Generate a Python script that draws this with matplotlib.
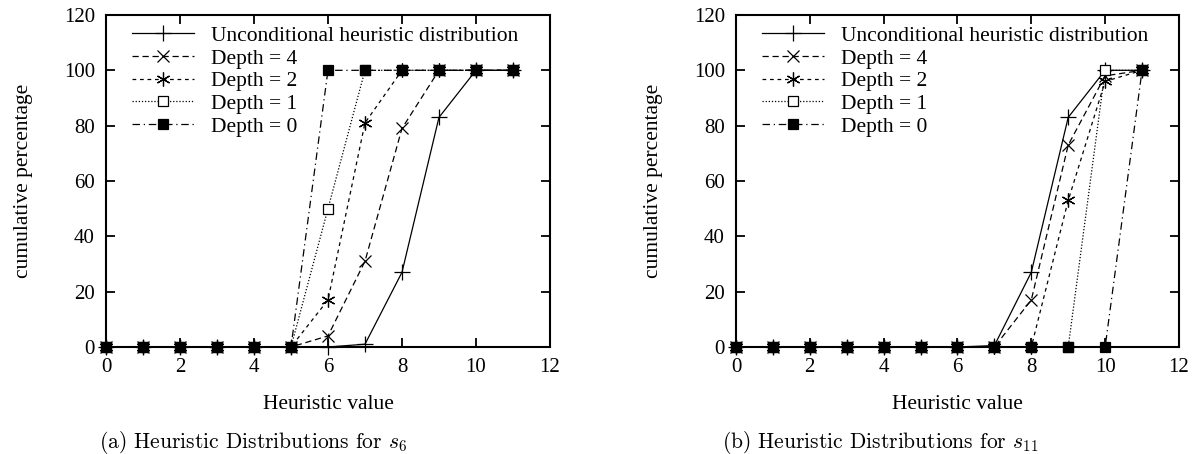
import numpy as np
import matplotlib.pyplot as plt

plt.rcParams['font.family'] = ['Liberation Serif', 'DejaVu Serif']
plt.rcParams['mathtext.fontset'] = 'cm'

h = list(range(12))
labels = ['Unconditional heuristic distribution', 'Depth = 4', 'Depth = 2',
          'Depth = 1', 'Depth = 0']

# (a) s6
s6_uncond = [0, 0, 0, 0, 0, 0, 0, 1, 27, 83, 100, 100]
s6_d4 = [0, 0, 0, 0, 0, 0, 4, 31, 79, 100, 100, 100]
s6_d2 = [0, 0, 0, 0, 0, 0, 17, 81, 100, 100, 100, 100]
s6_d1 = [0, 0, 0, 0, 0, 0, 50, 100, 100, 100, 100, 100]
s6_d0 = [0, 0, 0, 0, 0, 0, 100, 100, 100, 100, 100, 100]

# (b) s11
s11_uncond = [0, 0, 0, 0, 0, 0, 0, 0.5, 27, 83, 100, 100]
s11_d4 = [0, 0, 0, 0, 0, 0, 0, 0, 17, 73, 98, 100]
s11_d2 = [0, 0, 0, 0, 0, 0, 0, 0, 0, 53, 96, 100]
s11_d1 = [0, 0, 0, 0, 0, 0, 0, 0, 0, 0, 100, 100]
s11_d0 = [0, 0, 0, 0, 0, 0, 0, 0, 0, 0, 0, 100]

styles = [
    dict(ls='-', marker='+', ms=11, mew=0.9),
    dict(ls=(0, (5, 3)), marker='x', ms=8.5, mew=0.9),
    dict(ls=(0, (3, 3)), marker=(6, 2, 0), ms=10, mew=0.9),
    dict(ls=(0, (1, 1.5)), marker='s', ms=7.5, mew=0.9, mfc='white'),
    dict(ls=(0, (6, 3, 1, 3)), marker='s', ms=7.5, mew=0.9, mfc='black'),
]

fig = plt.figure(figsize=(11.99, 4.54), dpi=100)
ax1 = fig.add_axes([0.0884, 0.2357, 0.3703, 0.7313])
ax2 = fig.add_axes([0.6138, 0.2357, 0.3695, 0.7313])

for ax, data in [(ax1, [s6_uncond, s6_d4, s6_d2, s6_d1, s6_d0]),
                 (ax2, [s11_uncond, s11_d4, s11_d2, s11_d1, s11_d0])]:
    for y, lab, st in zip(data, labels, styles):
        ax.plot(h, y, color='black', lw=0.9, mec='black', label=lab,
                clip_on=False, **st)
    ax.set_xlim(0, 12)
    ax.set_ylim(0, 120)
    ax.set_xticks(range(0, 13, 2))
    ax.set_yticks(range(0, 121, 20))
    ax.tick_params(direction='in', length=6.5, width=1.3, top=True, right=True,
                   labelsize=15, pad=8)
    for sp in ax.spines.values():
        sp.set_linewidth(1.5)
    ax.set_xlabel('Heuristic value', fontsize=15.5, labelpad=13)
    ax.set_ylabel('cumulative percentage', fontsize=15.5, labelpad=22)
    ax.legend(loc='upper left', bbox_to_anchor=(0.058, 0.967), frameon=False,
              fontsize=15.5, handlelength=2.9, labelspacing=0.12,
              borderaxespad=0, handletextpad=0.8, borderpad=0)

fig.text(0.211, 0.014, r'(a) Heuristic Distributions for $s_6$',
         fontsize=15.5, family='cmr10', ha='center')
fig.text(0.734, 0.014, r'(b) Heuristic Distributions for $s_{11}$',
         fontsize=15.5, family='cmr10', ha='center')

fig.savefig('out.png', dpi=100)
